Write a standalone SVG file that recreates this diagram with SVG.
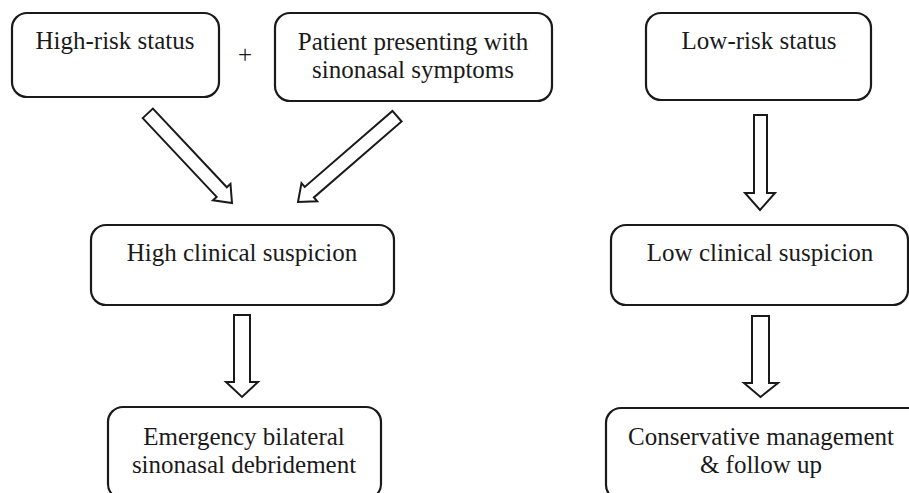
<svg xmlns="http://www.w3.org/2000/svg" width="909" height="493" viewBox="0 0 909 493">
<style>
.box{fill:#fff;stroke:#1a1a1a;stroke-width:2.2}
.arr{fill:#fff;stroke:#1a1a1a;stroke-width:2;stroke-linejoin:miter}
.t{font-family:'Liberation Serif','Times New Roman',serif;font-size:25px;fill:#1a1a1a;text-anchor:middle}
</style>
<rect width="909" height="493" fill="#fff"/>
<g id="n-highrisk">
<rect class="box" x="12" y="13" width="207" height="84" rx="15"/>
<text class="t" x="115" y="49">High-risk status</text>
</g>
<g id="plus"><text class="t" x="245" y="63">+</text></g>
<g id="n-patient">
<rect class="box" x="275" y="13" width="277" height="88" rx="15"/>
<text class="t" x="413" y="50">Patient presenting with</text>
<text class="t" x="413" y="78">sinonasal symptoms</text>
</g>
<g id="n-lowrisk">
<rect class="box" x="646" y="13" width="225" height="87" rx="15"/>
<text class="t" x="759" y="49">Low-risk status</text>
</g>
<g id="n-highsusp">
<rect class="box" x="91" y="225" width="303" height="80" rx="15"/>
<text class="t" x="242" y="261">High clinical suspicion</text>
</g>
<g id="n-lowsusp">
<rect class="box" x="611" y="225" width="297" height="80" rx="15"/>
<text class="t" x="760" y="261">Low clinical suspicion</text>
</g>
<g id="n-emergency">
<rect class="box" x="108" y="407" width="273" height="92" rx="15"/>
<text class="t" x="244" y="445">Emergency bilateral</text>
<text class="t" x="244" y="473">sinonasal debridement</text>
</g>
<g id="n-conservative">
<rect class="box" x="606" y="408" width="320" height="92" rx="15"/>
<text class="t" x="761" y="445">Conservative management</text>
<text class="t" x="761" y="473">&amp; follow up</text>
</g>
<g id="connectors">
<polygon class="arr" transform="translate(232,203) rotate(-43.2)" points="-7,-123 7,-123 7,-15 12,-15 0,0 -12,-15 -7,-15"/>
<polygon class="arr" transform="translate(298,202) rotate(49.1)" points="-7,-131 7,-131 7,-15 12,-15 0,0 -12,-15 -7,-15"/>
<polygon class="arr" points="234,315 250,315 250,382 258,382 242,397 226,382 234,382"/>
<polygon class="arr" points="754,115 767,115 767,193 775,193 760,210 745,193 754,193"/>
<polygon class="arr" points="752,316 769,316 769,383 778,383 760.5,397 744,383 752,383"/>
</g>
</svg>
